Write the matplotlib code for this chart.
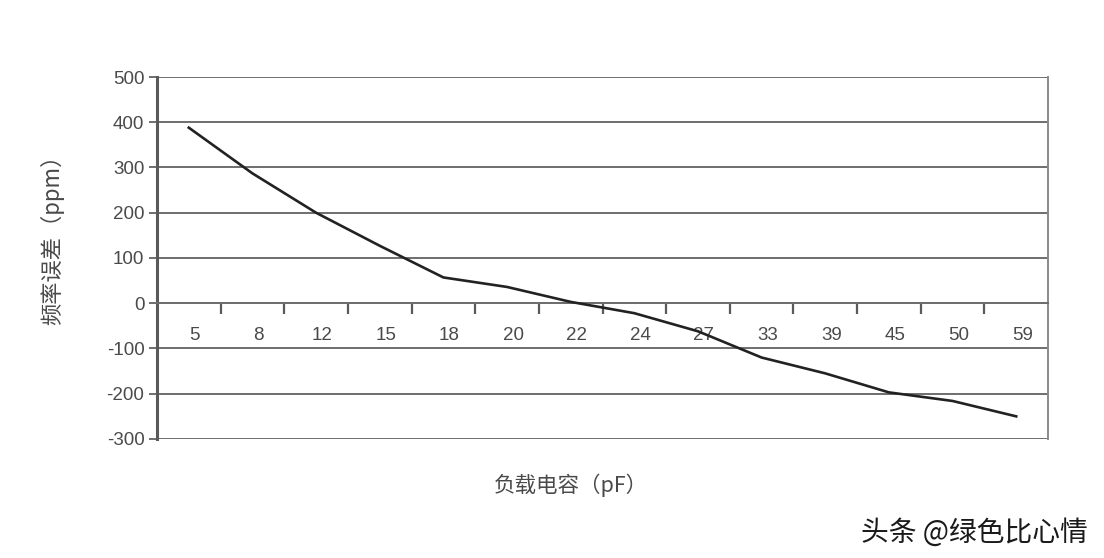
import matplotlib.pyplot as plt
import matplotlib.transforms as mtransforms
import numpy as np

plt.rcParams['font.family'] = ['Liberation Sans', 'Noto Sans CJK SC', 'DejaVu Sans']
plt.rcParams['axes.unicode_minus'] = False

# load capacitance (pF) vs frequency error (ppm)
caps = ['5', '8', '12', '15', '18', '20', '22', '24', '27', '33', '39', '45', '50', '59']
err = [388, 287, 200, 127, 57, 36, 3, -22, -62, -120, -155, -197, -216, -250]
yticks = [500, 400, 300, 200, 100, 0, -100, -200, -300]

fig = plt.figure(figsize=(11.04, 5.58), dpi=100)
ax = fig.add_axes([0.1422, 0.2133, 0.8071, 0.6487])

x = np.arange(len(caps))
ax.plot(x, err, color='#222222', lw=1.9, zorder=3)

ax.set_xlim(-0.5, len(caps) - 0.5)
ax.set_ylim(-300, 500)

# horizontal grid
for v in yticks:
    ax.axhline(v, color='#6e6e6e', lw=1.4, zorder=1)

ax.spines['top'].set_visible(False)
ax.spines['right'].set_color('#8a8a8a')
ax.spines['right'].set_linewidth(1.4)
ax.spines['left'].set_color('#5a5a5a')
ax.spines['left'].set_linewidth(2.2)
ax.spines['bottom'].set_position(('data', 0))
ax.spines['bottom'].set_color('#6e6e6e')
ax.spines['bottom'].set_linewidth(1.4)

ax.set_yticks(yticks)
ax.tick_params(axis='y', length=6, width=1.4, color='#6e6e6e', labelsize=13.5,
               labelcolor='#4a4a4a', pad=3)

# category labels at centres, tick marks at boundaries
ax.set_xticks(x)
ax.set_xticklabels(caps)
ax.set_xticks(np.arange(0.5, len(caps) - 0.5, 1), minor=True)
ax.tick_params(axis='x', which='major', length=0, labelsize=13.5,
               labelcolor='#4a4a4a', pad=17)
ax.tick_params(axis='x', which='minor', length=8, width=1.6, color='#5a5a5a',
               direction='out')
shift = mtransforms.ScaledTranslation(6 / 100, 0, fig.dpi_scale_trans)
for lbl in ax.get_xticklabels():
    lbl.set_transform(lbl.get_transform() + shift)

cjk = ['Noto Sans CJK SC', 'DejaVu Sans']
fig.text(0.047, 0.58, '频率误差（ppm）', rotation=90, ha='center', va='center',
         fontsize=16, color='#4a4a4a', family=cjk)
fig.text(0.517, 0.131, '负载电容（pF）', ha='center', va='center',
         fontsize=15.5, color='#4a4a4a', family=cjk)

# watermark
fig.text(0.9855, 0.045, '头条 @绿色比心情', ha='right', va='center', fontsize=20,
         color='#1a1a1a', family=cjk)

fig.savefig('out.png', dpi=100)
